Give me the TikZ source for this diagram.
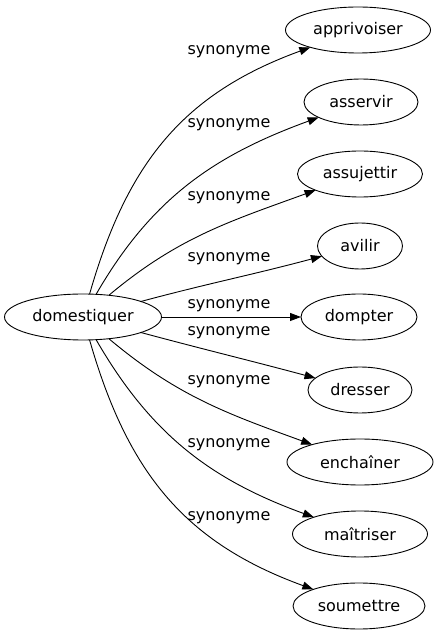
\documentclass[tikz,border=0pt]{standalone}
\usepackage{fontspec}
\setmainfont{DejaVu Sans}
\usetikzlibrary{arrows.meta,shapes.geometric}
\begin{document}
\begin{tikzpicture}[x=1pt, y=1pt]
\tikzset{ >={Triangle[length=11pt,width=8pt]}, inner sep=0pt, outer sep=0pt,
  word/.style={draw, ellipse, line width=0.9pt, minimum height=46pt, font=\fontsize{16}{19}\selectfont},
  rel/.style={font=\fontsize{16}{19}\selectfont},
  syn/.style={->, line width=0.9pt}, }
\useasboundingbox (0,0) rectangle (437,635);
%\draw [lightgray, dashed](0,0) grid[step=50] (437,635);

\node [word, minimum width=157pt] (D) at (83,318) {domestiquer};

\node [word, minimum width=145pt] (APP) at (358,605) {apprivoiser};
\node [word, minimum width=114pt] (ASE) at (361,533) {asservir};
\node [word, minimum width=125pt] (ASU) at (360,461) {assujettir};
\node [word, minimum width=85pt]  (AVI) at (360,389) {avilir};
\node [word, minimum width=116pt] (DOM) at (359,318) {dompter};
\node [word, minimum width=104pt] (DRE) at (360,245) {dresser};
\node [word, minimum width=146pt] (ENC) at (360,173) {enchaîner};
\node [word, minimum width=135pt] (MAI) at (360,101) {maîtriser};
\node [word, minimum width=132pt] (SOU) at (359,29)  {soumettre};

\draw [syn] (D) to[out=74,  in=200, looseness=1.05] (APP);
\draw [syn] (D) to[out=60,  in=200] (ASE);
\draw [syn] (D) to[out=40,  in=200] (ASU);
\draw [syn] (D) to[out=15,  in=195] (AVI);
\draw [syn] (D) -- (DOM);
\draw [syn] (D) to[out=-15, in=165] (DRE);
\draw [syn] (D) to[out=-40, in=160] (ENC);
\draw [syn] (D) to[out=-60, in=160] (MAI);
\draw [syn] (D) to[out=-74, in=160, looseness=1.05] (SOU);

\node [rel] (L1) at (229,583) {synonyme};
\node [rel] (L2) at (229,510) {synonyme};
\node [rel] (L3) at (229,437) {synonyme};
\node [rel] (L4) at (229,376) {synonyme};
\node [rel] (L5) at (229,329) {synonyme};
\node [rel] (L6) at (229,302) {synonyme};
\node [rel] (L7) at (229,253) {synonyme};
\node [rel] (L8) at (229,190) {synonyme};
\node [rel] (L9) at (229,117) {synonyme};

\end{tikzpicture}
\end{document}
